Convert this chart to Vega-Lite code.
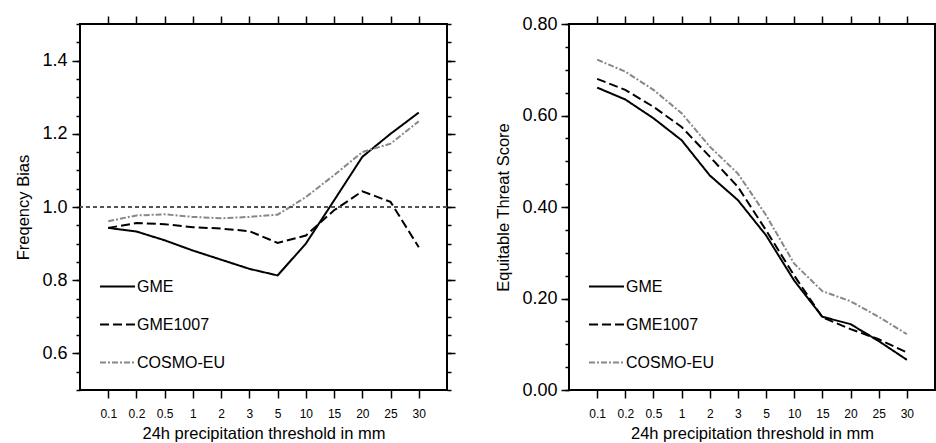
{
  "$schema": "https://vega.github.io/schema/vega-lite/v6.json",
  "padding": {"left": 14, "top": 14, "right": 0, "bottom": 0},
  "background": "white",
  "datasets": {
    "fbi": [
      {"thr": "0.1", "model": "GME", "value": 0.943},
      {"thr": "0.2", "model": "GME", "value": 0.933},
      {"thr": "0.5", "model": "GME", "value": 0.909},
      {"thr": "1", "model": "GME", "value": 0.881},
      {"thr": "2", "model": "GME", "value": 0.856},
      {"thr": "3", "model": "GME", "value": 0.831},
      {"thr": "5", "model": "GME", "value": 0.813},
      {"thr": "10", "model": "GME", "value": 0.900},
      {"thr": "15", "model": "GME", "value": 1.018},
      {"thr": "20", "model": "GME", "value": 1.137},
      {"thr": "25", "model": "GME", "value": 1.200},
      {"thr": "30", "model": "GME", "value": 1.258},
      {"thr": "0.1", "model": "GME1007", "value": 0.943},
      {"thr": "0.2", "model": "GME1007", "value": 0.956},
      {"thr": "0.5", "model": "GME1007", "value": 0.953},
      {"thr": "1", "model": "GME1007", "value": 0.945},
      {"thr": "2", "model": "GME1007", "value": 0.941},
      {"thr": "3", "model": "GME1007", "value": 0.934},
      {"thr": "5", "model": "GME1007", "value": 0.902},
      {"thr": "10", "model": "GME1007", "value": 0.922},
      {"thr": "15", "model": "GME1007", "value": 0.991},
      {"thr": "20", "model": "GME1007", "value": 1.043},
      {"thr": "25", "model": "GME1007", "value": 1.014},
      {"thr": "30", "model": "GME1007", "value": 0.890},
      {"thr": "0.1", "model": "COSMO-EU", "value": 0.961},
      {"thr": "0.2", "model": "COSMO-EU", "value": 0.977},
      {"thr": "0.5", "model": "COSMO-EU", "value": 0.980},
      {"thr": "1", "model": "COSMO-EU", "value": 0.973},
      {"thr": "2", "model": "COSMO-EU", "value": 0.969},
      {"thr": "3", "model": "COSMO-EU", "value": 0.973},
      {"thr": "5", "model": "COSMO-EU", "value": 0.979},
      {"thr": "10", "model": "COSMO-EU", "value": 1.027},
      {"thr": "15", "model": "COSMO-EU", "value": 1.087},
      {"thr": "20", "model": "COSMO-EU", "value": 1.150},
      {"thr": "25", "model": "COSMO-EU", "value": 1.173},
      {"thr": "30", "model": "COSMO-EU", "value": 1.234}
    ],
    "ets": [
      {"thr": "0.1", "model": "GME", "value": 0.661},
      {"thr": "0.2", "model": "GME", "value": 0.635},
      {"thr": "0.5", "model": "GME", "value": 0.594},
      {"thr": "1", "model": "GME", "value": 0.546},
      {"thr": "2", "model": "GME", "value": 0.469},
      {"thr": "3", "model": "GME", "value": 0.415},
      {"thr": "5", "model": "GME", "value": 0.338},
      {"thr": "10", "model": "GME", "value": 0.239},
      {"thr": "15", "model": "GME", "value": 0.160},
      {"thr": "20", "model": "GME", "value": 0.144},
      {"thr": "25", "model": "GME", "value": 0.107},
      {"thr": "30", "model": "GME", "value": 0.066},
      {"thr": "0.1", "model": "GME1007", "value": 0.680},
      {"thr": "0.2", "model": "GME1007", "value": 0.656},
      {"thr": "0.5", "model": "GME1007", "value": 0.619},
      {"thr": "1", "model": "GME1007", "value": 0.575},
      {"thr": "2", "model": "GME1007", "value": 0.510},
      {"thr": "3", "model": "GME1007", "value": 0.444},
      {"thr": "5", "model": "GME1007", "value": 0.349},
      {"thr": "10", "model": "GME1007", "value": 0.250},
      {"thr": "15", "model": "GME1007", "value": 0.159},
      {"thr": "20", "model": "GME1007", "value": 0.133},
      {"thr": "25", "model": "GME1007", "value": 0.111},
      {"thr": "30", "model": "GME1007", "value": 0.082},
      {"thr": "0.1", "model": "COSMO-EU", "value": 0.722},
      {"thr": "0.2", "model": "COSMO-EU", "value": 0.696},
      {"thr": "0.5", "model": "COSMO-EU", "value": 0.656},
      {"thr": "1", "model": "COSMO-EU", "value": 0.605},
      {"thr": "2", "model": "COSMO-EU", "value": 0.532},
      {"thr": "3", "model": "COSMO-EU", "value": 0.473},
      {"thr": "5", "model": "COSMO-EU", "value": 0.382},
      {"thr": "10", "model": "COSMO-EU", "value": 0.276},
      {"thr": "15", "model": "COSMO-EU", "value": 0.216},
      {"thr": "20", "model": "COSMO-EU", "value": 0.194},
      {"thr": "25", "model": "COSMO-EU", "value": 0.160},
      {"thr": "30", "model": "COSMO-EU", "value": 0.122}
    ]
  },
  "hconcat": [
    {
      "width": 367,
      "height": 366,
      "data": {"name": "fbi"},
      "resolve": {"axis": {"x": "independent", "y": "independent"}},
      "layer": [
        {
          "mark": {"type": "line", "strokeWidth": 2},
          "encoding": {
            "x": {"field": "thr", "type": "ordinal", "sort": ["0.1","0.2","0.5","1","2","3","5","10","15","20","25","30"], "scale": {"type": "point", "padding": 1},
                  "axis": {"orient": "bottom", "tickSize": 8, "labelFontSize": 12, "labelPadding": 10, "labelAngle": 0, "title": "24h precipitation threshold in mm", "titleFontSize": 16.5, "titlePadding": 6}},
            "y": {"field": "value", "type": "quantitative", "scale": {"domain": [0.5, 1.5], "nice": false, "zero": false},
                  "axis": {"orient": "left", "values": [0.6, 0.8, 1.0, 1.2, 1.4], "format": ".1f", "tickSize": 8, "labelFontSize": 18, "labelPadding": 5, "title": "Freqency Bias", "titleFontSize": 16.5, "titlePadding": 10}},
            "color": {"field": "model", "type": "nominal", "scale": {"domain": ["GME", "GME1007", "COSMO-EU"], "range": ["#000000", "#000000", "#888888"]},
                      "legend": {"orient": "none", "legendX": 19, "legendY": 244, "title": null, "symbolType": "stroke", "symbolSize": 1225, "symbolStrokeWidth": 2, "labelFontSize": 16, "labelOffset": 1, "rowPadding": 11}},
            "strokeDash": {"field": "model", "type": "nominal", "scale": {"domain": ["GME", "GME1007", "COSMO-EU"], "range": [[1, 0], [9, 4], [6, 2, 2, 2]]},
                      "legend": {"orient": "none", "legendX": 19, "legendY": 244, "title": null, "symbolType": "stroke", "symbolSize": 1225, "symbolStrokeWidth": 2, "labelFontSize": 16, "labelOffset": 1, "rowPadding": 11}}
          }
        },
        {
          "mark": {"type": "point", "opacity": 0},
          "encoding": {
            "x": {"field": "thr", "type": "ordinal", "sort": ["0.1","0.2","0.5","1","2","3","5","10","15","20","25","30"], "scale": {"type": "point", "padding": 1},
                  "axis": {"orient": "top", "tickSize": 8, "labels": false, "title": null}},
            "y": {"field": "value", "type": "quantitative", "scale": {"domain": [0.5, 1.5], "nice": false, "zero": false},
                  "axis": {"orient": "left", "values": [0.5,0.55,0.6,0.65,0.7,0.75,0.8,0.85,0.9,0.95,1.0,1.05,1.1,1.15,1.2,1.25,1.3,1.35,1.4,1.45,1.5], "tickSize": 4, "labels": false, "title": null}}
          }
        },
        {
          "mark": {"type": "point", "opacity": 0},
          "encoding": {
            "x": {"field": "thr", "type": "ordinal", "sort": ["0.1","0.2","0.5","1","2","3","5","10","15","20","25","30"], "scale": {"type": "point", "padding": 1}, "axis": null},
            "y": {"field": "value", "type": "quantitative", "scale": {"domain": [0.5, 1.5], "nice": false, "zero": false},
                  "axis": {"orient": "right", "values": [0.6, 0.8, 1.0, 1.2, 1.4], "tickSize": 8, "labels": false, "title": null}}
          }
        },
        {
          "mark": {"type": "point", "opacity": 0},
          "encoding": {
            "x": {"field": "thr", "type": "ordinal", "sort": ["0.1","0.2","0.5","1","2","3","5","10","15","20","25","30"], "scale": {"type": "point", "padding": 1}, "axis": null},
            "y": {"field": "value", "type": "quantitative", "scale": {"domain": [0.5, 1.5], "nice": false, "zero": false},
                  "axis": {"orient": "right", "values": [0.5,0.55,0.6,0.65,0.7,0.75,0.8,0.85,0.9,0.95,1.0,1.05,1.1,1.15,1.2,1.25,1.3,1.35,1.4,1.45,1.5], "tickSize": 4, "labels": false, "title": null}}
          }
        },
        {
          "mark": {"type": "rule", "strokeDash": [4, 3], "color": "#555555", "strokeWidth": 1},
          "encoding": {
            "y": {"datum": 1, "type": "quantitative", "scale": {"domain": [0.5, 1.5], "nice": false, "zero": false}, "axis": null}
          }
        }
      ]
    },
    {
      "width": 366,
      "height": 366,
      "data": {"name": "ets"},
      "resolve": {"axis": {"x": "independent", "y": "independent"}},
      "layer": [
        {
          "mark": {"type": "line", "strokeWidth": 2},
          "encoding": {
            "x": {"field": "thr", "type": "ordinal", "sort": ["0.1","0.2","0.5","1","2","3","5","10","15","20","25","30"], "scale": {"type": "point", "padding": 1},
                  "axis": {"orient": "bottom", "tickSize": 8, "labelFontSize": 12, "labelPadding": 10, "labelAngle": 0, "title": "24h precipitation threshold in mm", "titleFontSize": 16.5, "titlePadding": 6}},
            "y": {"field": "value", "type": "quantitative", "scale": {"domain": [0, 0.8], "nice": false, "zero": false},
                  "axis": {"orient": "left", "values": [0, 0.2, 0.4, 0.6, 0.8], "format": ".2f", "tickSize": 8, "labelFontSize": 18, "labelPadding": 4, "title": "Equitable Threat Score", "titleFontSize": 16.5, "titlePadding": 10}},
            "color": {"field": "model", "type": "nominal", "scale": {"domain": ["GME", "GME1007", "COSMO-EU"], "range": ["#000000", "#000000", "#888888"]},
                      "legend": {"orient": "none", "legendX": 19, "legendY": 244, "title": null, "symbolType": "stroke", "symbolSize": 1225, "symbolStrokeWidth": 2, "labelFontSize": 16, "labelOffset": 1, "rowPadding": 11}},
            "strokeDash": {"field": "model", "type": "nominal", "scale": {"domain": ["GME", "GME1007", "COSMO-EU"], "range": [[1, 0], [9, 4], [6, 2, 2, 2]]},
                      "legend": {"orient": "none", "legendX": 19, "legendY": 244, "title": null, "symbolType": "stroke", "symbolSize": 1225, "symbolStrokeWidth": 2, "labelFontSize": 16, "labelOffset": 1, "rowPadding": 11}}
          }
        },
        {
          "mark": {"type": "point", "opacity": 0},
          "encoding": {
            "x": {"field": "thr", "type": "ordinal", "sort": ["0.1","0.2","0.5","1","2","3","5","10","15","20","25","30"], "scale": {"type": "point", "padding": 1},
                  "axis": {"orient": "top", "tickSize": 8, "labels": false, "title": null}},
            "y": {"field": "value", "type": "quantitative", "scale": {"domain": [0, 0.8], "nice": false, "zero": false},
                  "axis": {"orient": "left", "values": [0,0.05,0.1,0.15,0.2,0.25,0.3,0.35,0.4,0.45,0.5,0.55,0.6,0.65,0.7,0.75,0.8], "tickSize": 4, "labels": false, "title": null}}
          }
        }
      ]
    }
  ],
  "resolve": {"scale": {"color": "independent", "strokeDash": "independent"}},
  "config": {
    "font": "Liberation Sans",
    "view": {"stroke": "#000000", "strokeWidth": 2},
    "concat": {"spacing": 37},
    "axis": {"domain": false, "grid": false, "tickColor": "#000000", "tickWidth": 1.5, "labelColor": "#000000", "titleColor": "#000000", "titleFontWeight": "normal", "labelFont": "Liberation Sans", "titleFont": "Liberation Sans"},
    "legend": {"labelFont": "Liberation Sans", "labelColor": "#000000"}
  }
}
